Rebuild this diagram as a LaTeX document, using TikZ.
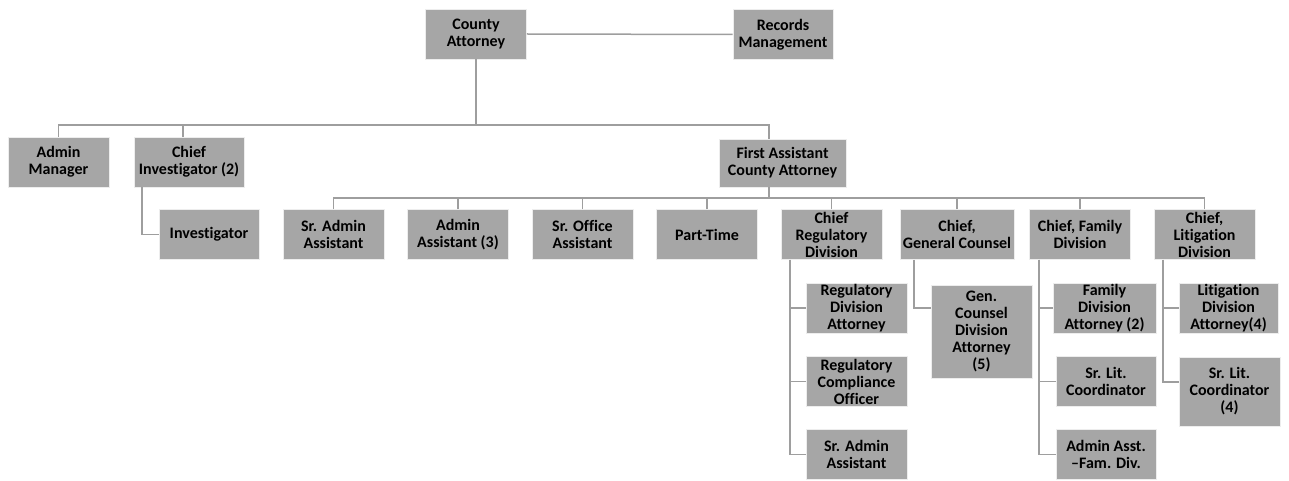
\documentclass[tikz,border=0pt]{standalone}
\usepackage{fontspec}
\setmainfont{Carlito}[Ligatures=NoCommon]
\usepackage{xcolor}
\usepackage{tikz}
\usetikzlibrary{positioning}

\definecolor{boitegris}{HTML}{A6A6A6}
\definecolor{traitgris}{HTML}{9E9E9E}

\begin{document}
\begin{tikzpicture}[x=1pt, y=-1pt,
    poste/.style={rectangle, draw=white!80!boitegris, line width=0.6pt, fill=boitegris,
        minimum width=101pt, minimum height=50pt, inner xsep=1pt, inner ysep=0pt,
        align=center, font=\bfseries\fontsize{16}{17}\selectfont},
    lien/.style={draw=traitgris, line width=1.5pt}]

                \useasboundingbox (0,0) rectangle (1289,481);

                % Définition des postes
                \node[poste] (ca) at (476,34) {County\\Attorney};
                \node[poste, minimum width=100pt] (rec) at (783,34.5) {Records\\Management};

                \node[poste] (adm) at (58.5,162) {Admin\\Manager};
                \node[poste, minimum width=110pt] (cinv) at (189,162) {Chief\\Investigator (2)};
                \node[poste, minimum width=100pt] (inv) at (209,234.5) {Investigator};
                \node[poste, minimum width=127pt, minimum height=48pt] (fa) at (782.5,163) {First Assistant\\County Attorney};

                \node[poste] (sra) at (333.5,234.5) {Sr. Admin\\Assistant};
                \node[poste] (aa) at (458,234.5) {Admin\\Assistant (3)};
                \node[poste] (soa) at (582.5,234.5) {Sr. Office\\Assistant};
                \node[poste] (pt) at (707,234.5) {Part-Time};
                \node[poste] (creg) at (831.5,234.5) {Chief\\Regulatory\\Division};
                \node[poste, minimum width=114pt] (cgc) at (957,234.5) {Chief,\\General Counsel};
                \node[poste] (cfam) at (1080,234.5) {Chief, Family\\Division};
                \node[poste] (clit) at (1204.5,234.5) {Chief,\\Litigation\\Division};

                \node[poste] (rda) at (856.5,308) {Regulatory\\Division\\Attorney};
                \node[poste] (rco) at (856.5,381.5) {Regulatory\\Compliance\\Officer};
                \node[poste] (rsa) at (856.5,454.5) {Sr. Admin\\Assistant};

                \node[poste, minimum height=93pt] (gcda) at (981.5,331.5) {Gen.\\Counsel\\Division\\Attorney\\(5)};

                \node[poste, minimum width=103pt] (fda) at (1104.5,308) {Family\\Division\\Attorney (2)};
                \node[poste, minimum width=100pt] (fslc) at (1106,381.5) {Sr. Lit.\\Coordinator};
                \node[poste, minimum width=100pt] (faa) at (1106,454.5) {Admin Asst.\\--Fam. Div.};

                \node[poste, minimum width=99pt] (lda) at (1228.5,308) {Litigation\\Division\\Attorney(4)};
                \node[poste, minimum height=69pt] (lslc) at (1229.5,391.5) {Sr. Lit.\\Coordinator\\(4)};

                % Définition des liens
                \coordinate (busA) at (476,125);
                \coordinate (busB) at (769,198);

                \draw[lien] (ca.east) -- (rec.west);
                \draw[lien] (ca.south) -- (busA);
                \draw[lien] (adm.north) |- (busA);
                \draw[lien] ([xshift=-6pt]cinv.north) |- (busA);
                \draw[lien] ([xshift=-13.5pt]fa.north) |- (busA);
                \draw[lien] ([xshift=-47pt]cinv.south) |- (inv.west);

                \draw[lien] ([xshift=-13.5pt]fa.south) -- (busB);
                \foreach \n in {sra, aa, soa, pt, creg, cgc, cfam, clit}
                    \draw[lien] (\n.north) |- (busB);

                \foreach \n in {rda, rco, rsa}
                    \draw[lien] ([xshift=-41.5pt]creg.south) |- (\n.west);
                \draw[lien] ([xshift=-43pt]cgc.south) |- ([yshift=23.5pt]gcda.west);
                \foreach \n in {fda, fslc, faa}
                    \draw[lien] ([xshift=-41pt]cfam.south) |- (\n.west);
                \draw[lien] ([xshift=-41.5pt]clit.south) |- (lda.west);
                \draw[lien] ([xshift=-41.5pt]clit.south) |- ([yshift=9.5pt]lslc.west);

            \end{tikzpicture}
\end{document}
